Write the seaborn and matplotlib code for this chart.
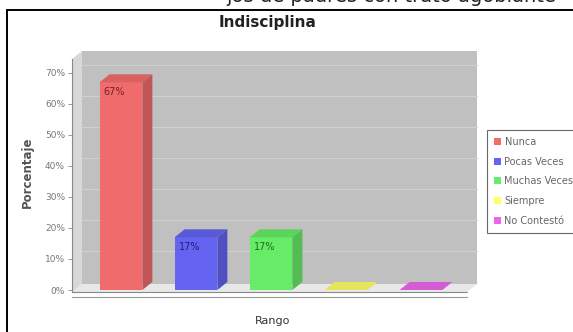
import matplotlib
matplotlib.use("Agg")
import matplotlib.pyplot as plt
import matplotlib.colors as mcolors
from matplotlib.patches import Polygon, Rectangle
from matplotlib.lines import Line2D
from matplotlib.transforms import IdentityTransform, Affine2D
import seaborn as sns
import pandas as pd

## Data
categorias = ["Nunca", "Pocas Veces", "Muchas Veces", "Siempre", "No Contestó"]
porcentajes = [67, 17, 17, 0, 0]
etiquetas = ["67%", "17%", "17%", "", ""]
colores = ["#F06C6C", "#6464F0", "#66EC66", "#FFFF66", "#EC66EC"]
color_texto = ["#7A1E1E", "#1E1E7A", "#1E6A1E", "#777700", "#771E77"]
yticks = [0, 10, 20, 30, 40, 50, 60, 70]

W, H = 573, 332
DX, DY = 10, 8   # 3D depth in pixels


def shade(c, f):
    r, g, b = mcolors.to_rgb(c)[:3]
    return (r * f, g * f, b * f)


sns.set_theme(style="white")
plt.rcParams["font.family"] = ["DejaVu Sans"]

fig = plt.figure(figsize=(W / 100, H / 100), dpi=100)
fig.patch.set_facecolor("white")
ax = fig.add_axes([72 / W, 1 - 292 / H, 395 / W, 233 / H])
ax.set_facecolor("none")

df = pd.DataFrame({"rango": categorias, "pct": porcentajes})
sns.barplot(data=df, x="rango", y="pct", hue="rango", order=categorias,
            hue_order=categorias, palette=colores, width=0.57, dodge=False,
            saturation=1, legend=True, ax=ax, zorder=3, edgecolor="none",
            linewidth=0)

ax.set_xlim(-0.653, 4.613)
ax.set_ylim(-2 / 3.1, 231 / 3.1)
ax.set_xticks([])
ax.set_yticks(yticks)
ax.set_yticklabels([f"{v}%" for v in yticks])
ax.tick_params(axis="y", length=3, width=0.6, color="#888888", labelsize=6.5,
               labelcolor="#777777", pad=2, left=True)
ax.set_xlabel("")
ax.set_ylabel("")
for s in ["top", "right", "bottom"]:
    ax.spines[s].set_visible(False)
ax.spines["left"].set_color("#888888")
ax.spines["left"].set_linewidth(0.8)

# back wall, floor and left wall of the 3D box
back = ax.transAxes + Affine2D().translate(DX, DY)
ax.add_patch(Rectangle((0, 0), 1, 1, transform=back, facecolor="#C0C0C0",
                       edgecolor="none", zorder=0, clip_on=False))
back_data = ax.transData + Affine2D().translate(DX, DY)
x0, x1 = ax.get_xlim()
for v in yticks[1:]:
    ax.add_line(Line2D([x0, x1], [v, v], transform=back_data, color="#D0D0D0",
                       lw=0.8, zorder=0.5, clip_on=False))

(fl, fb), (fr, _), (_, ft) = ax.transAxes.transform([[0, 0], [1, 0], [0, 1]])
ax.add_patch(Polygon([(fl, fb), (fr, fb), (fr + DX, fb + DY), (fl + DX, fb + DY)],
                     transform=IdentityTransform(), facecolor="#E8E8E8",
                     edgecolor="none", zorder=1, clip_on=False))
ax.add_patch(Polygon([(fl, fb), (fl, ft), (fl + DX, ft + DY), (fl + DX, fb + DY)],
                     transform=IdentityTransform(), facecolor="#D8D8D8",
                     edgecolor="none", zorder=1, clip_on=False))
ax.add_line(Line2D([fl, fr], [fb, fb], transform=IdentityTransform(),
                   color="#888888", lw=0.8, zorder=2, clip_on=False))
ax.add_line(Line2D([fl, fr], [fb - 5, fb - 5], transform=IdentityTransform(),
                   color="#999999", lw=0.8, zorder=2, clip_on=False))

# 3D faces of the bars
bars = [p for p in ax.patches if isinstance(p, Rectangle) and p.get_zorder() == 3]
for p, lab, tc in zip(bars, etiquetas, color_texto):
    bx, bw, bh = p.get_x(), p.get_width(), p.get_height()
    (X0, Y0), (X1, Y1) = ax.transData.transform([[bx, 0], [bx + bw, bh]])
    fc = p.get_facecolor()
    ax.add_patch(Polygon([(X0, Y1), (X1, Y1), (X1 + DX, Y1 + DY), (X0 + DX, Y1 + DY)],
                         transform=IdentityTransform(), facecolor=shade(fc, 0.9),
                         edgecolor="none", zorder=4, clip_on=False))
    if bh > 0:
        ax.add_patch(Polygon([(X1, Y0), (X1, Y1), (X1 + DX, Y1 + DY), (X1 + DX, Y0 + DY)],
                             transform=IdentityTransform(), facecolor=shade(fc, 0.8),
                             edgecolor="none", zorder=4, clip_on=False))
    if lab:
        ax.annotate(lab, (bx, bh), xytext=(4, -10), textcoords="offset pixels",
                    fontsize=7, color=tc, ha="left", va="center", zorder=5)

leg = ax.legend(loc="upper left", bbox_to_anchor=(487 / W, 1 - 130 / H),
                bbox_transform=fig.transFigure, fontsize=7, frameon=True,
                fancybox=False, handlelength=0.7, handleheight=0.7,
                handletextpad=0.4, labelspacing=1.0, borderpad=0.7,
                borderaxespad=0)
leg.get_frame().set_edgecolor("#444444")
leg.get_frame().set_linewidth(0.8)
for t in leg.get_texts():
    t.set_color("#666666")

# texts
fig.text(268 / W, 1 - 22 / H, "Indisciplina", fontsize=11, fontweight="bold",
         color="#222222", ha="center", va="center")
fig.text(27 / W, 1 - 172 / H, "Porcentaje", fontsize=8.5, fontweight="bold",
         color="#555555", rotation=90, ha="center", va="center")
fig.text(273 / W, 1 - 321 / H, "Rango", fontsize=8, color="#333333",
         ha="center", va="center")
fig.text(226 / W, 1 - 2 / H, "jos de padres con trato agobiante", fontsize=14,
         color="#222222", ha="left", va="baseline")

# outer frame
fig.add_artist(Rectangle((7 / W, -0.1), 2, 1.1 - 10 / H, transform=fig.transFigure,
                         fill=False, edgecolor="black", linewidth=1.4))

fig.savefig("out.png", dpi=100)
